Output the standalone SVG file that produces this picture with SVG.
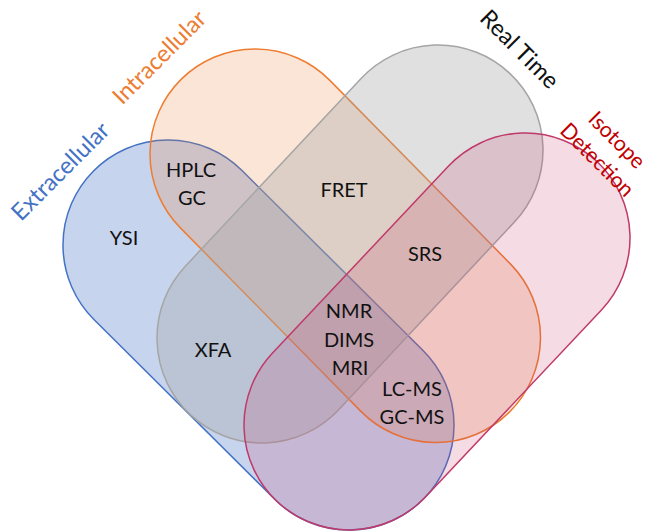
<svg xmlns="http://www.w3.org/2000/svg" width="659" height="531" viewBox="0 0 659 531">
  <style>
    .set { stroke-width: 1.5; }
    .lbl { font-family: Lato, "Liberation Sans", sans-serif; font-size: 20px; fill: #111111; text-anchor: middle; }
    .title { font-family: Lato, "Liberation Sans", sans-serif; font-size: 23.5px; text-anchor: middle; }
  </style>
  <rect width="659" height="531" fill="#ffffff"/>

  <!-- four stadium-shaped sets, each a rounded rect (r = 105) rotated about its midpoint -->
  <g id="set-extracellular">
    <rect class="set" x="-232.65" y="-105" width="465.3" height="210" rx="105" ry="105"
          transform="translate(258.5 335) rotate(44.84)"
          fill="#4472C4" fill-opacity="0.3" stroke="#4472C4"/>
  </g>
  <g id="set-intracellular">
    <rect class="set" x="-233.7" y="-105" width="467.4" height="210" rx="105" ry="105"
          transform="translate(345.25 245.75) rotate(45.47)"
          fill="#ED7D31" fill-opacity="0.2" stroke="#ED7D31"/>
  </g>
  <g id="set-realtime">
    <rect class="set" x="-233.75" y="-105" width="467.5" height="210" rx="105" ry="105"
          transform="translate(350 244) rotate(-46.89)"
          fill="#A5A5A5" fill-opacity="0.35" stroke="#A5A5A5"/>
  </g>
  <g id="set-isotope">
    <rect class="set" x="-233.4" y="-105" width="466.8" height="210" rx="105" ry="105"
          transform="translate(437 331.5) rotate(-46.73)"
          fill="#C0396A" fill-opacity="0.18" stroke="#C0396A"/>
  </g>

  <!-- set titles -->
  <g id="title-extracellular" transform="translate(66 177) rotate(-45)">
    <text class="title" x="0" y="0" fill="#4472C4">Extracellular</text>
  </g>
  <g id="title-intracellular" transform="translate(165 63) rotate(-45)">
    <text class="title" x="0" y="0" fill="#ED7D31">Intracellular</text>
  </g>
  <g id="title-realtime" transform="translate(514 55) rotate(45)">
    <text class="title" x="0" y="0" fill="#111111">Real Time</text>
  </g>
  <g id="title-isotope" transform="translate(592 165) rotate(45)">
    <text class="title" x="0" y="-28" fill="#C00000" style="font-size:21.5px">Isotope</text>
    <text class="title" x="0" y="0" fill="#C00000" style="font-size:21.5px">Detection</text>
  </g>

  <!-- region labels -->
  <g id="labels">
    <text class="lbl" x="124" y="245">YSI</text>
    <text class="lbl" x="191" y="177">HPLC</text>
    <text class="lbl" x="192" y="205">GC</text>
    <text class="lbl" x="344" y="197">FRET</text>
    <text class="lbl" x="425" y="261">SRS</text>
    <text class="lbl" x="213" y="357">XFA</text>
    <text class="lbl" x="349" y="318">NMR</text>
    <text class="lbl" x="349" y="347">DIMS</text>
    <text class="lbl" x="350" y="375">MRI</text>
    <text class="lbl" x="412" y="396">LC-MS</text>
    <text class="lbl" x="412" y="424">GC-MS</text>
  </g>
</svg>
